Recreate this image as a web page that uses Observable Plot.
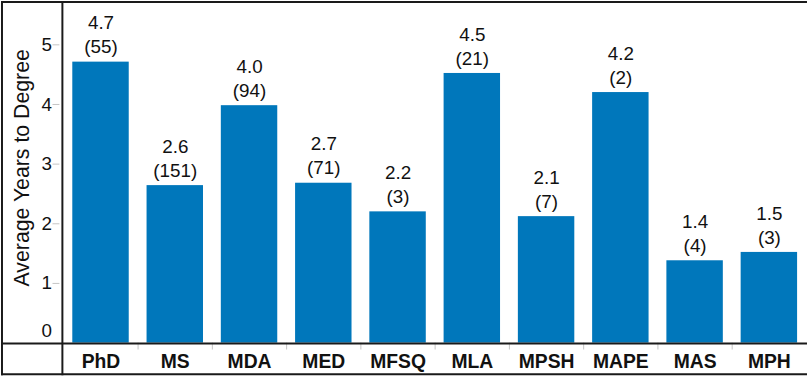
<!DOCTYPE html>
<html><head><meta charset="utf-8">
<script src="https://cdn.jsdelivr.net/npm/d3@7"></script>
<script src="https://cdn.jsdelivr.net/npm/@observablehq/plot@0.6"></script>
<style>html,body{margin:0;padding:0;overflow:hidden;background:#fff;width:807px;height:381px}</style>
</head><body><div id="chart"></div>
<script>
const degrees = ["PhD","MS","MDA","MED","MFSQ","MLA","MPSH","MAPE","MAS","MPH"];
const years = [4.71,2.64,3.98,2.68,2.2,4.52,2.12,4.2,1.38,1.52];
const counts = [55,151,94,71,3,21,7,2,4,3];
const yTicks = [0,1,2,3,4,5];
const yLabel = "Average Years to Degree";

const data = degrees.map((d,i)=>({degree:d, years:years[i], count:counts[i]}));
const fmt = d3.format(".1f");
const W=815,H=381,ML=63,MR=1,MT=2,MB=35;
const step = (W-ML-MR)/degrees.length;
const font = "'Liberation Sans', Arial, Helvetica, sans-serif";

const plot = Plot.plot({
  width:W,height:H,marginLeft:ML,marginRight:MR,marginTop:MT,marginBottom:MB,
  style:{fontFamily:font, background:"#fff", color:"#111", overflow:"visible"},
  x:{domain:degrees, paddingInner:0.24, paddingOuter:0.12, axis:null},
  y:{domain:[0,5.71], axis:null},
  marks:[
    Plot.barY(data,{x:"degree",y:"years",fill:"#0077bb"}),
    Plot.text(data,{x:"degree",y:"years",text:d=>`${fmt(d.years)}\n(${d.count})`,
      lineAnchor:"bottom", lineHeight:1.27, dy:-9, fontSize:19, fill:"#111"}),
    Plot.axisY({ticks:yTicks.filter(t=>t>0), tickSize:7, dx:-3, tickFormat:()=>"", stroke:"#c4c4c4", label:null}),
    Plot.axisY({ticks:yTicks.filter(t=>t>0), tickFormat:d3.format("d"), tickSize:0, tickPadding:11, fontSize:19, label:null, fill:"#111"}),
    Plot.axisY({ticks:[0], tickFormat:d3.format("d"), tickSize:0, tickPadding:11, dy:-12, fontSize:19, label:null, fill:"#111"}),
    Plot.text([yLabel],{text:d=>d, frameAnchor:"left", rotate:-90, lineAnchor:"top", textAnchor:"middle", dx:-50, dy:-5, fontSize:21.5, fill:"#111"}),
    Plot.axisX({ticks:degrees.slice(1), tickSize:7, dx:-step/2, tickFormat:()=>"", stroke:"#c4c4c4", label:null}),
    Plot.axisX({tickSize:0, tickPadding:11, fontSize:19.5, fontWeight:"bold", label:null, fill:"#111"})
  ]
});

const svg = d3.select(plot);
const g = svg.append("g").attr("stroke","#1a1a1a").attr("stroke-width",2);
g.append("line").attr("x1",1).attr("x2",W).attr("y1",2).attr("y2",2);
g.append("line").attr("x1",2).attr("x2",2).attr("y1",1).attr("y2",379);
g.append("line").attr("x1",1).attr("x2",W).attr("y1",378).attr("y2",378);
g.append("line").attr("x1",63).attr("x2",63).attr("y1",1).attr("y2",379);
g.append("line").attr("x1",1).attr("x2",W).attr("y1",347).attr("y2",347);

document.getElementById("chart").append(plot);
</script>
</body></html>
